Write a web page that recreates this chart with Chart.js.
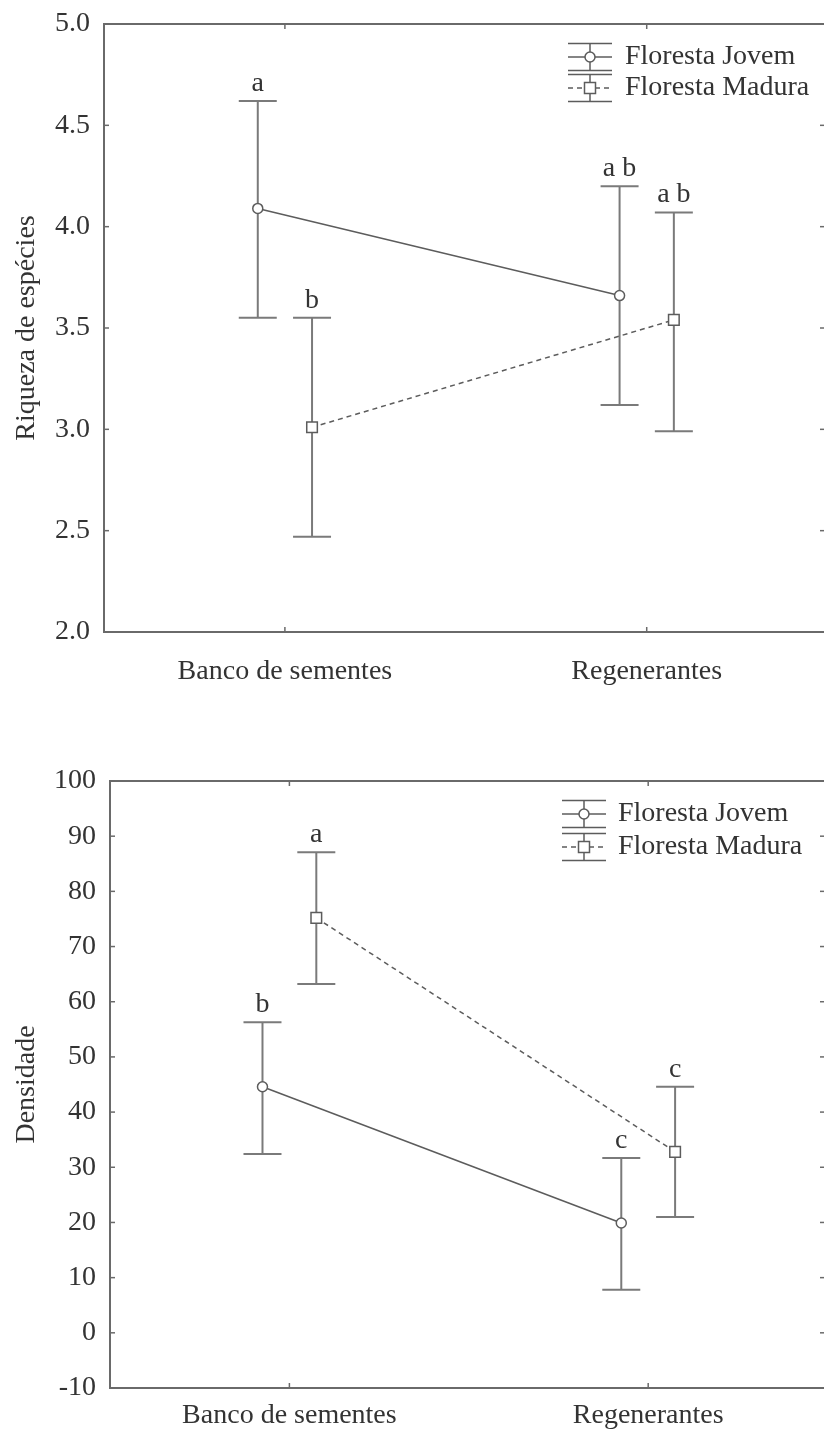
<!DOCTYPE html>
<html>
<head>
<meta charset="utf-8">
<script src="https://cdn.jsdelivr.net/npm/chart.js@4.4.0/dist/chart.umd.min.js"></script>
<style>
    html, body { margin: 0; padding: 0; background: #fff; overflow: hidden; width: 824px; height: 1431px; }
    .clip { position: absolute; left: 0; width: 824px; overflow: hidden; }
    #top { top: 0; height: 700px; }
    #bottom { top: 740px; height: 691px; }
</style>
</head>
<body>
<div class="clip" id="top"><canvas id="richness" width="833" height="700"></canvas></div>
<div class="clip" id="bottom"><canvas id="density" width="833" height="691"></canvas></div>
<script>
const categories = ['Banco de sementes', 'Regenerantes'];
const seriesNames = ['Floresta Jovem', 'Floresta Madura'];

// Riqueza de espécies
const richYTicks = [2.0, 2.5, 3.0, 3.5, 4.0, 4.5, 5.0];
const richJovemMean = [4.09, 3.66];
const richJovemUpper = [4.62, 4.20];
const richJovemLower = [3.55, 3.12];
const richJovemLetters = ['a', 'a b'];
const richMaduraMean = [3.01, 3.54];
const richMaduraUpper = [3.55, 4.07];
const richMaduraLower = [2.47, 2.99];
const richMaduraLetters = ['b', 'a b'];

// Densidade
const densYTicks = [-10, 0, 10, 20, 30, 40, 50, 60, 70, 80, 90, 100];
const densJovemMean = [44.6, 19.9];
const densJovemUpper = [56.3, 31.7];
const densJovemLower = [32.4, 7.8];
const densJovemLetters = ['b', 'c'];
const densMaduraMean = [75.2, 32.8];
const densMaduraUpper = [87.1, 44.6];
const densMaduraLower = [63.2, 21.0];
const densMaduraLetters = ['a', 'c'];

// the plot box runs a little past the right edge of the page
const X_MIN = -0.5;
const X_MAX = 1.49;
const DODGE = 0.075;
const FONT = '"Liberation Serif", "Times New Roman", serif';
const TEXT = '#333';
const AXIS = '#6a6a6a';
const LINE = '#5c5c5c';
const BAR = '#7a7a7a';

function line(ctx, x1, y1, x2, y2) {
    ctx.beginPath();
    ctx.moveTo(x1, y1);
    ctx.lineTo(x2, y2);
    ctx.stroke();
}

function drawMarker(ctx, style, x, y) {
    ctx.save();
    ctx.setLineDash([]);
    ctx.fillStyle = '#fff';
    ctx.strokeStyle = LINE;
    ctx.lineWidth = 1.5;
    ctx.beginPath();
    if (style === 'rect') ctx.rect(x - 5.5, y - 5.5, 11, 11);
    else ctx.arc(x, y, 5, 0, Math.PI * 2);
    ctx.fill();
    ctx.stroke();
    ctx.restore();
}

const decorPlugin = {
    id: 'decor',
    beforeDatasetsDraw(chart, args, opts) {
        const { ctx, chartArea: a, scales: { x, y } } = chart;
        const right = opts.visibleRight;
        ctx.save();
        ctx.strokeStyle = AXIS;
        ctx.lineWidth = 2;
        line(ctx, a.left, a.top, a.right, a.top);
        line(ctx, a.left, a.top - 1, a.left, a.bottom + 1);
        line(ctx, a.left, a.bottom, a.right, a.bottom);

        // inward tick marks on all four sides
        ctx.lineWidth = 1.5;
        y.ticks.forEach(t => {
            const py = y.getPixelForValue(t.value);
            line(ctx, a.left, py, a.left + 5, py);
            line(ctx, right - 4, py, right, py);
        });
        x.ticks.forEach(t => {
            const px = x.getPixelForValue(t.value);
            line(ctx, px, a.bottom, px, a.bottom - 5);
            line(ctx, px, a.top, px, a.top + 5);
        });

        // error bars + letters
        ctx.strokeStyle = BAR;
        ctx.lineWidth = 2;
        ctx.font = '28px ' + FONT;
        ctx.fillStyle = TEXT;
        ctx.textAlign = 'center';
        ctx.textBaseline = 'alphabetic';
        chart.data.datasets.forEach((ds, di) => {
            const meta = chart.getDatasetMeta(di);
            meta.data.forEach((pt, i) => {
                const top = y.getPixelForValue(ds.upper[i]);
                const bot = y.getPixelForValue(ds.lower[i]);
                line(ctx, pt.x, top, pt.x, bot);
                line(ctx, pt.x - 19, top, pt.x + 19, top);
                line(ctx, pt.x - 19, bot, pt.x + 19, bot);
                ctx.fillText(ds.letters[i], pt.x, top - 10);
            });
        });
        ctx.restore();
    },
    afterDraw(chart, args, opts) {
        const { ctx } = chart;
        const lg = opts.legend;
        ctx.save();
        chart.data.datasets.forEach((ds, di) => {
            const cy = lg.y + di * lg.gap;
            const cx = lg.x;
            ctx.strokeStyle = LINE;
            ctx.lineWidth = 1.5;
            ctx.setLineDash([]);
            line(ctx, cx - 22, cy - 13.5, cx + 22, cy - 13.5);
            line(ctx, cx - 22, cy + 13.5, cx + 22, cy + 13.5);
            line(ctx, cx, cy - 13.5, cx, cy + 13.5);
            ctx.setLineDash(ds.borderDash || []);
            line(ctx, cx - 22, cy, cx + 22, cy);
            drawMarker(ctx, ds.pointStyle, cx, cy);
            ctx.setLineDash([]);
            ctx.fillStyle = TEXT;
            ctx.font = '28px ' + FONT;
            ctx.textAlign = 'left';
            ctx.textBaseline = 'middle';
            ctx.fillText(ds.label, lg.textX, cy);
        });
        ctx.restore();
    }
};

function makeDataset(label, mean, upper, lower, letters, style, dash) {
    return {
        label: label,
        data: mean.map((v, i) => ({ x: i + (style === 'rect' ? DODGE : -DODGE), y: v })),
        upper: upper,
        lower: lower,
        letters: letters,
        borderColor: LINE,
        borderWidth: 1.5,
        borderDash: dash,
        backgroundColor: '#fff',
        pointStyle: style,
        pointRadius: style === 'rect' ? 7.5 : 5,
        pointBorderWidth: 1.5,
        pointBorderColor: LINE,
        pointBackgroundColor: '#fff',
        showLine: true,
        tension: 0
    };
}

function makeChart(id, cfg) {
    return new Chart(document.getElementById(id), {
        type: 'scatter',
        data: {
            datasets: [
                makeDataset(seriesNames[0], cfg.jovem[0], cfg.jovem[1], cfg.jovem[2], cfg.jovem[3], 'circle', []),
                makeDataset(seriesNames[1], cfg.madura[0], cfg.madura[1], cfg.madura[2], cfg.madura[3], 'rect', [5, 4])
            ]
        },
        options: {
            responsive: false,
            animation: false,
            events: [],
            layout: { padding: { top: cfg.padTop, right: 0, left: 0, bottom: 0 } },
            plugins: {
                legend: { display: false },
                tooltip: { enabled: false },
                decor: { legend: cfg.legend, visibleRight: 824 }
            },
            scales: {
                x: {
                    type: 'linear',
                    min: X_MIN,
                    max: X_MAX,
                    grid: { display: false },
                    border: { display: false },
                    afterBuildTicks: s => { s.ticks = categories.map((c, i) => ({ value: i })); },
                    afterFit: s => {
                        s.height = cfg.xHeight;
                        s.paddingLeft = 0;
                        s.paddingRight = 0;
                    },
                    ticks: {
                        padding: cfg.xPad,
                        maxRotation: 0,
                        color: TEXT,
                        font: { family: FONT, size: 28 },
                        callback: (v, i) => categories[i]
                    }
                },
                y: {
                    min: cfg.yTicks[0],
                    max: cfg.yTicks[cfg.yTicks.length - 1],
                    grid: { display: false, drawTicks: false },
                    border: { display: false },
                    afterBuildTicks: s => { s.ticks = cfg.yTicks.map(v => ({ value: v })); },
                    afterFit: s => {
                        s.width = cfg.yWidth;
                        s.paddingTop = 0;
                        s.paddingBottom = 0;
                    },
                    ticks: {
                        padding: 14,
                        color: TEXT,
                        font: { family: FONT, size: 28 },
                        callback: cfg.fmt
                    },
                    title: {
                        display: true,
                        text: cfg.title,
                        color: TEXT,
                        font: { family: FONT, size: 28 },
                        padding: { top: 10, bottom: 0 }
                    }
                }
            }
        },
        plugins: [decorPlugin]
    });
}

makeChart('richness', {
    jovem: [richJovemMean, richJovemUpper, richJovemLower, richJovemLetters],
    madura: [richMaduraMean, richMaduraUpper, richMaduraLower, richMaduraLetters],
    yTicks: richYTicks,
    fmt: v => Number(v).toFixed(1),
    title: 'Riqueza de espécies',
    padTop: 24,
    xHeight: 68,
    xPad: 15,
    yWidth: 104,
    legend: { x: 590, y: 57, gap: 31, textX: 625 }
});

makeChart('density', {
    jovem: [densJovemMean, densJovemUpper, densJovemLower, densJovemLetters],
    madura: [densMaduraMean, densMaduraUpper, densMaduraLower, densMaduraLetters],
    yTicks: densYTicks,
    fmt: v => String(v),
    title: 'Densidade',
    padTop: 41,
    xHeight: 43,
    xPad: 3,
    yWidth: 110,
    legend: { x: 584, y: 74, gap: 33, textX: 618 }
});
</script>
</body>
</html>
